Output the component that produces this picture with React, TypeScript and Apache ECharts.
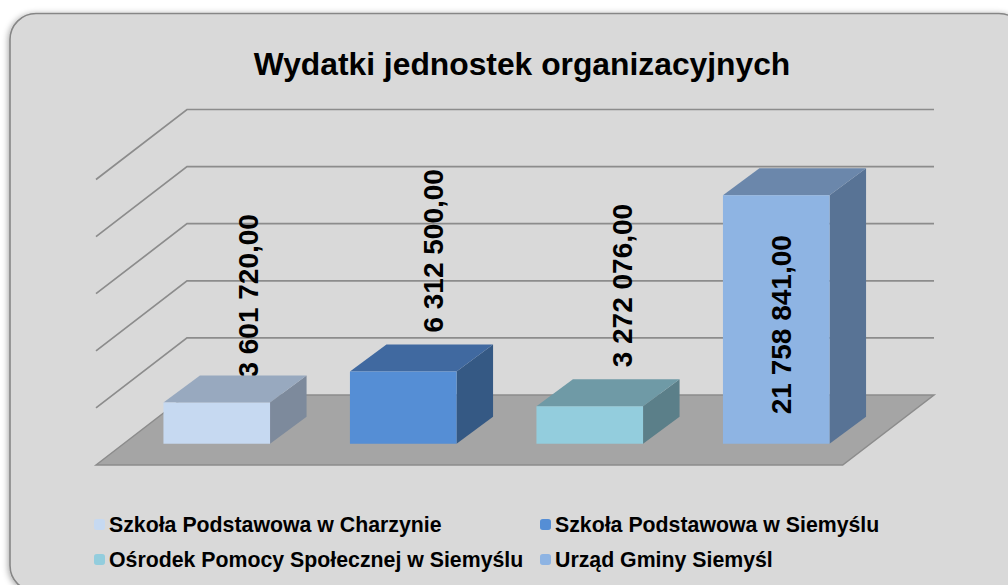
import React, { useEffect, useRef } from "react";
import * as echarts from "echarts";

const title = "Wydatki jednostek organizacyjnych";
const categories = [
  "Szkoła Podstawowa w Charzynie",
  "Szkoła Podstawowa w Siemyślu",
  "Ośrodek Pomocy Społecznej w Siemyślu",
  "Urząd Gminy Siemyśl",
];
const values = [3601720, 6312500, 3272076, 21758841];
const valueLabels = ["3 601 720,00", "6 312 500,00", "3 272 076,00", "21 758 841,00"];
const wallTicks = [5000000, 10000000, 15000000, 20000000, 25000000];
const frontColors = ["#c6d9f1", "#558ed5", "#93cddd", "#8eb4e3"];
const topColors = ["#98a9bf", "#4069a0", "#6f9aa6", "#6b87ab"];
const sideColors = ["#7d8a9c", "#355984", "#5b7f89", "#587395"];

const DX = 36.5;
const DY = 27;
const LINE = "#8c8c8c";

function renderWalls(params: any, api: any) {
  const cs = params.coordSys;
  const v = api.value(1);
  const y = api.coord([0, v])[1];
  return {
    type: "polyline",
    silent: true,
    shape: {
      points: [
        [cs.x - 27.5, y + 21.3],
        [cs.x + 63.5, y - 48.7],
        [cs.x + cs.width + 64.5, y - 48.7],
      ],
    },
    style: { stroke: LINE, lineWidth: 1.7, fill: "none" },
  };
}

function renderFloor(params: any, api: any) {
  const cs = params.coordSys;
  const y = api.coord([0, 0])[1];
  return {
    type: "polygon",
    silent: true,
    shape: {
      points: [
        [cs.x - 27.5, y + 21.3],
        [cs.x + 63.5, y - 48.7],
        [cs.x + cs.width + 64.5, y - 48.7],
        [cs.x + cs.width - 26.8, y + 21.3],
      ],
    },
    style: { fill: "#a5a5a5", stroke: LINE, lineWidth: 1.5 },
  };
}

function renderBar(i: number) {
  return (params: any, api: any) => {
    const top = api.coord([api.value(0), api.value(1)]);
    const base = api.coord([api.value(0), 0]);
    const w = api.size([1, 0])[0] * 0.5716;
    const l = top[0] - w / 2;
    const r = top[0] + w / 2;
    return {
      type: "group",
      children: [
        {
          type: "polygon",
          shape: { points: [[r, top[1]], [r + DX, top[1] - DY], [r + DX, base[1] - DY], [r, base[1]]] },
          style: { fill: sideColors[i] },
        },
        {
          type: "polygon",
          shape: { points: [[l, top[1]], [l + DX, top[1] - DY], [r + DX, top[1] - DY], [r, top[1]]] },
          style: { fill: topColors[i] },
        },
        {
          type: "rect",
          shape: { x: l, y: top[1], width: w, height: base[1] - top[1] },
          style: { fill: frontColors[i] },
        },
      ],
    };
  };
}

const labelAnchors = [
  { dx: 32, dy: -25 },
  { dx: 30.5, dy: -39 },
  { dx: 32.5, dy: -39 },
  { dx: 5, dy: 129.5 },
];

export default function App() {
  const ref = useRef<HTMLDivElement>(null);
  useEffect(() => {
    document.body.style.margin = "0";
    const chart = echarts.init(ref.current!, undefined, { renderer: "svg" });
    const legendText = { fontFamily: "Liberation Sans", fontWeight: "bold" as const, fontSize: 21.3, color: "#000", padding: [0, 0, 0, -1] };
    chart.setOption({
      animation: false,
      backgroundColor: "#ffffff",
      title: {
        text: title,
        left: 517,
        top: 43,
        textAlign: "center",
        textStyle: { fontFamily: "Liberation Sans", fontWeight: "bold", fontSize: 31.8, color: "#000" },
      },
      grid: { left: 123.5, top: 158.2, width: 746, height: 285.5 },
      xAxis: { type: "category", data: categories, show: false },
      yAxis: { type: "value", min: 0, max: 25000000, interval: 5000000, show: false },
      legend: [
        {
          data: [categories[0], categories[2]],
          left: 94, top: 514, orient: "vertical", itemWidth: 11, itemHeight: 11, itemGap: 14, selectedMode: false,
          textStyle: legendText, padding: 0,
        },
        {
          data: [categories[1], categories[3]],
          left: 540, top: 514, orient: "vertical", itemWidth: 11, itemHeight: 11, itemGap: 14, selectedMode: false,
          textStyle: legendText, padding: 0,
        },
      ],
      graphic: [
        {
          type: "rect",
          z: -10,
          shape: { x: 10, y: 13.5, width: 1015, height: 578, r: 26 },
          style: { fill: "#d9d9d9", stroke: "#868686", lineWidth: 1.6, shadowBlur: 6, shadowColor: "rgba(0,0,0,0.35)", shadowOffsetX: -1, shadowOffsetY: 1 },
        },
      ],
      series: [
        {
          type: "custom",
          name: "walls",
          z: 1,
          coordinateSystem: "cartesian2d",
          renderItem: renderWalls,
          data: wallTicks.map((v) => [0, v]),
          encode: { x: 0, y: 1 },
          silent: true,
        },
        {
          type: "custom",
          name: "floor",
          z: 1,
          renderItem: renderFloor,
          data: [[0, 0]],
          encode: { x: 0, y: 1 },
          silent: true,
        },
        ...categories.map((name, i) => ({
          type: "custom",
          name,
          z: 3,
          itemStyle: { color: frontColors[i] },
          renderItem: renderBar(i),
          encode: { x: 0, y: 1 },
          data: [[i, values[i]]],
        })),
        {
          type: "custom",
          name: "labels-back",
          z: 2,
          renderItem: labelItem,
          data: [0, 1, 2].map((i) => [i, values[i], i]),
          encode: { x: 0, y: 1 },
          silent: true,
        },
        {
          type: "custom",
          name: "labels-front",
          z: 5,
          renderItem: labelItem,
          data: [[3, values[3], 3]],
          encode: { x: 0, y: 1 },
          silent: true,
        },
      ],
    });
    return () => chart.dispose();
  }, []);
  return <div ref={ref} style={{ width: 1008, height: 585 }} />;
}

function labelItem(params: any, api: any) {
  const i = api.value(2);
  const p = api.coord([api.value(0), api.value(1)]);
  const a = labelAnchors[i];
  return {
    type: "text",
    silent: true,
    x: p[0] + a.dx,
    y: p[1] + a.dy,
    rotation: Math.PI / 2,
    style: {
      text: valueLabels[i],
      fontFamily: "Liberation Sans",
      fontWeight: "bold",
      fontSize: 28,
      fill: "#000",
      textAlign: i === 3 ? "center" : "left",
      textVerticalAlign: "middle",
    },
  };
}
